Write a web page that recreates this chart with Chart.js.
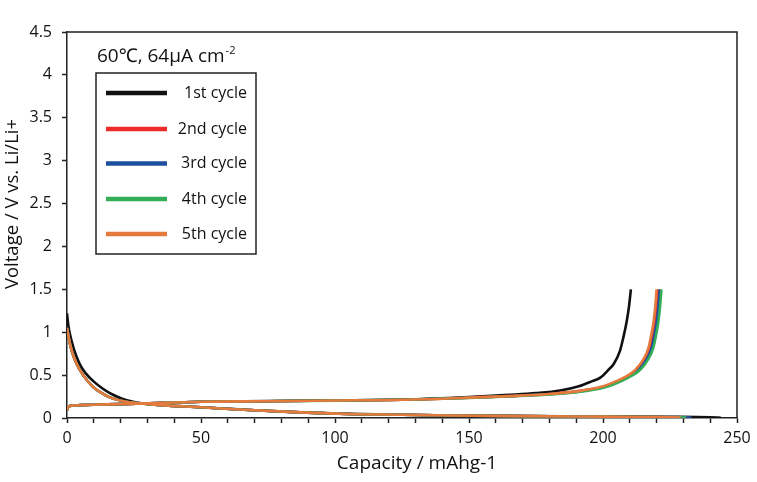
<!DOCTYPE html>
<html>
<head>
<meta charset="utf-8">
<script src="https://cdn.jsdelivr.net/npm/chart.js@4/dist/chart.umd.min.js"></script>
<style>
  html, body { margin: 0; padding: 0; background: #fff; }
  #wrap { width: 757px; height: 482px; position: relative; }
</style>
</head>
<body>
<div id="wrap"><canvas id="c" width="757" height="482"></canvas></div>
<script>
// ---- Data (capacity mAh/g, voltage V) ----
const cycleNames = ['1st cycle', '2nd cycle', '3rd cycle', '4th cycle', '5th cycle'];
const chartNote = '60℃, 64μA cm';
const chartNoteSup = '-2';
const xTitle = 'Capacity / mAhg-1';
const yTitle = 'Voltage / V vs. Li/Li+';
const xTickValues = [0, 50, 100, 150, 200, 250];

const c1Discharge = [[0,1.22],[0.5,1.08],[1,0.99],[2.4,0.82],[3.5,0.72],[4.9,0.62],[7,0.52],[9.8,0.43],[13,0.35],[16,0.29],[19,0.245],[22,0.21],[26,0.18],[30,0.163],[40,0.14],[50,0.125],[60,0.108],[70,0.09],[87,0.066],[105,0.048],[125,0.038],[145,0.03],[170,0.024],[200,0.018],[225,0.014],[240,0.008],[244,0.002]];
const c1Charge = [[0,0.1],[0.5,0.13],[2,0.145],[5,0.15],[10,0.155],[20,0.162],[30,0.172],[50,0.19],[75,0.197],[100,0.205],[125,0.215],[150,0.245],[165,0.27],[175,0.29],[184,0.32],[191,0.37],[196,0.43],[199,0.47],[202,0.56],[204,0.63],[206.3,0.78],[207.6,0.94],[208.8,1.12],[209.7,1.3],[210.4,1.5]];

const c2Discharge = [[0,1.05],[1,0.88],[2,0.76],[3.6,0.63],[6,0.5],[9.8,0.36],[13,0.29],[16,0.24],[22,0.19],[26,0.175],[35,0.15],[50,0.125],[68,0.093],[87,0.066],[105,0.047],[125,0.038],[143,0.03],[170,0.022],[200,0.016],[220,0.012],[232,0.006]];
const c2Charge = [[0,0.09],[0.5,0.13],[2,0.145],[5,0.15],[10,0.155],[20,0.162],[30,0.172],[50,0.19],[75,0.196],[100,0.204],[125,0.213],[150,0.237],[165,0.255],[180,0.28],[190,0.31],[199.5,0.36],[205.5,0.43],[209.5,0.49],[212.6,0.56],[215.6,0.68],[217.6,0.82],[218.8,1.0],[219.5,1.13],[220.1,1.3],[220.6,1.5]];

const c3Discharge = [[0,1.05],[1,0.88],[2,0.76],[3.6,0.63],[6,0.5],[9.8,0.36],[13,0.29],[16,0.24],[22,0.19],[26,0.175],[35,0.15],[50,0.125],[68,0.093],[87,0.066],[105,0.047],[125,0.038],[143,0.03],[170,0.022],[200,0.016],[220,0.012],[233,0.006]];
const c3Charge = [[0,0.09],[0.5,0.13],[2,0.145],[5,0.15],[10,0.155],[20,0.162],[30,0.172],[50,0.19],[75,0.196],[100,0.204],[125,0.213],[150,0.236],[165,0.254],[180,0.278],[190,0.305],[200,0.36],[206,0.43],[210,0.49],[213.2,0.56],[216.2,0.68],[218.2,0.82],[219.4,1.0],[220.1,1.13],[220.7,1.3],[221.2,1.5]];

const c4Discharge = [[0,1.05],[1,0.88],[2,0.76],[3.6,0.63],[6,0.5],[9.8,0.36],[13,0.29],[16,0.24],[22,0.19],[26,0.175],[35,0.15],[50,0.125],[68,0.093],[87,0.066],[105,0.047],[125,0.038],[143,0.03],[170,0.022],[200,0.016],[220,0.012],[231,0.006]];
const c4Charge = [[0,0.09],[0.5,0.13],[2,0.145],[5,0.15],[10,0.155],[20,0.162],[30,0.172],[50,0.19],[75,0.196],[100,0.203],[125,0.212],[150,0.235],[165,0.252],[180,0.275],[190,0.3],[200.5,0.355],[206.5,0.425],[210.6,0.49],[213.8,0.56],[216.8,0.68],[218.8,0.82],[220,1.0],[220.7,1.13],[221.3,1.3],[221.8,1.5]];

const c5Discharge = [[0,1.05],[1,0.88],[2,0.76],[3.6,0.63],[6,0.5],[9.8,0.36],[13,0.29],[16,0.24],[22,0.19],[26,0.175],[35,0.15],[50,0.125],[68,0.093],[87,0.066],[105,0.047],[125,0.038],[143,0.03],[170,0.022],[200,0.016],[220,0.012],[229,0.006]];
const c5Charge = [[0,0.09],[0.5,0.13],[2,0.145],[5,0.15],[10,0.155],[20,0.162],[30,0.172],[50,0.19],[75,0.196],[100,0.204],[125,0.213],[150,0.237],[165,0.255],[180,0.28],[190,0.31],[199,0.36],[205,0.43],[209,0.49],[212,0.56],[215,0.68],[217,0.82],[218.2,1.0],[218.9,1.13],[219.5,1.3],[220,1.5]];

const cycleDischarge = [c1Discharge, c2Discharge, c3Discharge, c4Discharge, c5Discharge];
const cycleCharge = [c1Charge, c2Charge, c3Charge, c4Charge, c5Charge];

// ---- Styles ----
const cycleColors = ['#111111', '#ee2b2b', '#1d4f9f', '#34ad57', '#e57a3c'];
const drawOrder = [4, 3, 2, 1, 0]; // lower = on top
const FONT = "'Open Sans', 'Noto Sans', sans-serif";
const AXIS_COLOR = '#222';

const toPts = arr => arr.map(p => ({ x: p[0], y: p[1] }));
const datasets = [];
cycleNames.forEach((name, i) => {
  [cycleDischarge[i], cycleCharge[i]].forEach(seg => {
    datasets.push({
      label: name,
      data: toPts(seg),
      borderColor: cycleColors[i],
      backgroundColor: cycleColors[i],
      borderWidth: 2.6,
      pointRadius: 0,
      fill: false,
      cubicInterpolationMode: 'monotone',
      order: drawOrder[i]
    });
  });
});

const framePlugin = {
  id: 'frame',
  afterDraw(chart) {
    const { ctx, chartArea: a } = chart;
    ctx.save();
    ctx.strokeStyle = AXIS_COLOR;
    ctx.lineWidth = 1.5;
    ctx.beginPath();
    ctx.moveTo(a.left, a.top);
    ctx.lineTo(a.right, a.top);
    ctx.lineTo(a.right, a.bottom);
    ctx.stroke();
    // axis titles
    ctx.fillStyle = '#111';
    ctx.textAlign = 'center';
    ctx.textBaseline = 'middle';
    ctx.font = '19px ' + FONT;
    ctx.fillText(xTitle, 417, 464);
    ctx.save();
    ctx.translate(12.5, 204);
    ctx.rotate(-Math.PI / 2);
    ctx.font = '18.5px ' + FONT;
    ctx.fillText(yTitle, 0, 0);
    ctx.restore();
    ctx.restore();
  }
};

const legendPlugin = {
  id: 'boxLegend',
  afterDraw(chart) {
    const { ctx } = chart;
    ctx.save();
    ctx.fillStyle = '#111';
    ctx.textBaseline = 'alphabetic';
    ctx.textAlign = 'left';
    ctx.font = '19px ' + FONT;
    ctx.fillText(chartNote, 97, 62);
    const w = ctx.measureText(chartNote).width;
    ctx.font = '11px ' + FONT;
    ctx.fillText(chartNoteSup, 97 + w + 1, 54);
    const bx = 96, by = 73, bw = 160, bh = 181;
    ctx.fillStyle = '#fff';
    ctx.fillRect(bx, by, bw, bh);
    ctx.strokeStyle = '#222';
    ctx.lineWidth = 1.5;
    ctx.strokeRect(bx, by, bw, bh);
    const rowY = [93, 129, 163.5, 199, 234];
    cycleNames.forEach((name, i) => {
      const y = rowY[i];
      ctx.strokeStyle = cycleColors[i];
      ctx.lineWidth = 4.5;
      ctx.beginPath();
      ctx.moveTo(106, y);
      ctx.lineTo(167, y);
      ctx.stroke();
      ctx.fillStyle = '#111';
      ctx.font = '16px ' + FONT;
      ctx.textAlign = 'right';
      ctx.textBaseline = 'middle';
      ctx.fillText(name, 247, y);
    });
    ctx.restore();
  }
};

new Chart(document.getElementById('c'), {
  type: 'line',
  data: { datasets },
  plugins: [framePlugin, legendPlugin],
  options: {
    responsive: false,
    animation: false,
    events: [],
    layout: { padding: { left: 0, right: 20, top: 32, bottom: 0 } },
    plugins: { legend: { display: false }, tooltip: { enabled: false } },
    scales: {
      x: {
        type: 'linear',
        min: 0, max: 250,
        afterFit(scale) { scale.height = 64; },
        border: { display: true, color: AXIS_COLOR, width: 1.5 },
        grid: { drawOnChartArea: false, drawTicks: true, tickLength: 5, color: AXIS_COLOR, tickWidth: 1.5 },
        ticks: {
          stepSize: 10, autoSkip: false, maxRotation: 0, padding: 6,
          color: '#111', font: { family: FONT, size: 16 },
          callback: v => (xTickValues.includes(v) ? String(v) : '')
        },
        title: { display: false }
      },
      y: {
        type: 'linear',
        min: 0, max: 4.5,
        afterFit(scale) { scale.width = 67; },
        border: { display: true, color: AXIS_COLOR, width: 1.5 },
        grid: { drawOnChartArea: false, drawTicks: true, tickLength: 5, color: AXIS_COLOR, tickWidth: 1.5 },
        ticks: {
          stepSize: 0.5, padding: 10, color: '#111', font: { family: FONT, size: 16 },
          callback: v => String(Math.round(v * 10) / 10)
        },
        title: { display: false }
      }
    }
  }
});
</script>
</body>
</html>
